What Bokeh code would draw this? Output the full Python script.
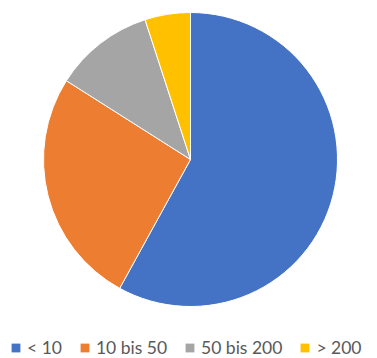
import numpy as np
from bokeh.plotting import figure
from bokeh.models import ColumnDataSource, Legend, LegendItem
from bokeh.embed import file_html
from bokeh.resources import INLINE

categories = ["< 10", "10 bis 50", "50 bis 200", "> 200"]
values = [58, 26, 11, 5]
colors = ["#4472C4", "#ED7D31", "#A5A5A5", "#FFC000"]

vals = np.array(values, dtype=float)
frac = vals / vals.sum()
cum = np.concatenate([[0], np.cumsum(frac)])
start = np.pi / 2 - cum[:-1] * 2 * np.pi
end = np.pi / 2 - cum[1:] * 2 * np.pi

src = ColumnDataSource(dict(cat=categories, start=start, end=end, color=colors,
                            x=[0] * 4, y=[0] * 4, w=[0] * 4))

p = figure(width=377, height=358, x_range=(-190, 187), y_range=(-199, 159),
           output_backend="svg", toolbar_location=None, min_border=0)
p.axis.visible = False
p.grid.visible = False
p.outline_line_color = None

p.wedge(x=0, y=0, radius=147, start_angle="start", end_angle="end",
        direction="clock", fill_color="color", line_color="white",
        line_width=1, source=src)

# zero-size rects used only as legend swatches
rr = p.rect(x="x", y="y", width="w", height="w", fill_color="color",
            line_color=None, source=src)

items = [LegendItem(label=c, renderers=[rr], index=i) for i, c in enumerate(categories)]

legend = Legend(items=items, orientation="horizontal", location=(10, 0),
                label_text_font="Lato", label_text_font_size="17.5px",
                label_text_color="#595959", glyph_width=11, glyph_height=11,
                label_standoff=6, spacing=17, padding=0, margin=0,
                border_line_color=None, background_fill_alpha=0)
p.add_layout(legend)

open("out.html", "w").write(file_html(p, INLINE))
